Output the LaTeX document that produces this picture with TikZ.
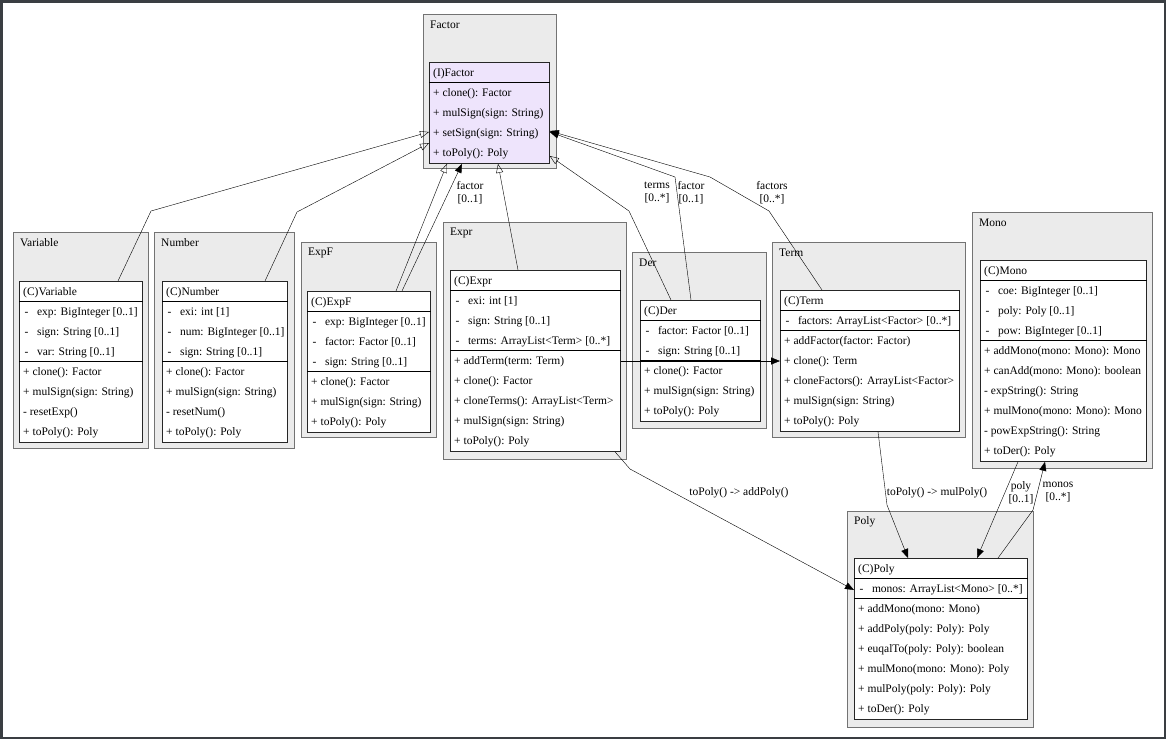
\documentclass[tikz,border=0pt]{standalone}
\usepackage{fontspec}
\setmainfont{Liberation Serif}
\usetikzlibrary{arrows.meta}
\definecolor{ifacefill}{RGB}{238,228,252}
\definecolor{pkgfill}{RGB}{235,235,235}
\definecolor{framegray}{RGB}{58,62,66}

% package box: name, x1, y1, x2, y2, label
\newcommand{\umlpkg}[6]{%
  \node[pkgbox, minimum width={#4pt-#2pt}, minimum height={#5pt-#3pt}] (#1) at (#2,#3) {};
  \node[pkgtext] (#1-l) at ([xshift=7pt,yshift=-11pt]#1.north west) {#6};
}

% class box: [fill], name, x, y, width, title, attributes, methods
\newcommand{\umlclass}[8][white]{%
  \xdef\nattr{0}\xdef\nmeth{0}%
  \if\relax\detokenize{#7}\relax\else
    \foreach \t [count=\i] in {#7} {\xdef\nattr{\i}}%
  \fi
  \foreach \t [count=\i] in {#8} {\xdef\nmeth{\i}}%
  \pgfmathsetmacro{\clsh}{20*(1+\nattr+\nmeth)+1}%
  \node[clsbox, fill=#1, minimum width=#5pt, minimum height=\clsh pt] (#2) at (#3,#4) {};
  \node[rowtext] (#2-t) at ([yshift=-10pt]#2.north west) {#6};
  \draw ([yshift=-20pt]#2.north west) -- ([yshift=-20pt]#2.north east);
  \if\relax\detokenize{#7}\relax\else
    \foreach \t [count=\i] in {#7} {
      \node[rowtext] (#2-a\i) at ([yshift=-10pt-20pt*\i]#2.north west) {\hspace{1.5pt}-\hspace{8.5pt}\t};
    }
    \draw ([yshift=-20pt-20pt*\nattr]#2.north west) -- ([yshift=-20pt-20pt*\nattr]#2.north east);
  \fi
  \foreach \t [count=\i] in {#8} {
    \node[rowtext] (#2-m\i) at ([yshift=-10pt-20pt*\i-20pt*\nattr]#2.north west) {\t};
  }
}

\begin{document}
\begin{tikzpicture}[x=1pt, y=-1pt,
  every node/.style={font=\fontsize{11.5}{13}\selectfont},
  pkgbox/.style={draw=black!55, line width=1.3pt, fill=pkgfill, anchor=north west, inner sep=0},
  pkgtext/.style={anchor=west, inner sep=0},
  clsbox/.style={draw=black!85, line width=0.8pt, anchor=north west, inner sep=0},
  rowtext/.style={anchor=west, inner sep=0, xshift=4pt, yshift=-1.7pt},
  real/.style={-{Triangle[open, length=9pt, width=7pt]}},
  assoc/.style={-{Triangle[length=9pt, width=7pt]}},
  elabel/.style={align=center, inner sep=0, yshift=-1.5pt}]
  \useasboundingbox (0,0) rectangle (1166,739);

  % Packages
  \umlpkg{pFactor}{423}{14}{556}{168}{Factor}
  \umlpkg{pVariable}{13}{232}{148}{448}{Variable}
  \umlpkg{pNumber}{154}{232}{294}{448}{Number}
  \umlpkg{pExpF}{301}{242}{436}{437}{ExpF}
  \umlpkg{pExpr}{443}{222}{626}{459}{Expr}
  \umlpkg{pDer}{632}{252}{766}{428}{Der}
  \umlpkg{pTerm}{772}{242}{965}{437}{Term}
  \umlpkg{pMono}{972}{212}{1152}{468}{Mono}
  \umlpkg{pPoly}{847}{511}{1033}{727}{Poly}

  % Classes
  \umlclass[ifacefill]{factor}{429}{62}{120}{(I)Factor}{}
    {{+ clone(): Factor}, {+ mulSign(sign: String)}, {+ setSign(sign: String)}, {+ toPoly(): Poly}}
  \umlclass{variable}{19}{281}{123}{(C)Variable}
    {{exp: BigInteger [0..1]}, {sign: String [0..1]}, {var: String [0..1]}}
    {{+ clone(): Factor}, {+ mulSign(sign: String)}, {- resetExp()}, {+ toPoly(): Poly}}
  \umlclass{number}{162}{281}{125}{(C)Number}
    {{exi: int [1]}, {num: BigInteger [0..1]}, {sign: String [0..1]}}
    {{+ clone(): Factor}, {+ mulSign(sign: String)}, {- resetNum()}, {+ toPoly(): Poly}}
  \umlclass{expf}{307}{291}{123}{(C)ExpF}
    {{exp: BigInteger [0..1]}, {factor: Factor [0..1]}, {sign: String [0..1]}}
    {{+ clone(): Factor}, {+ mulSign(sign: String)}, {+ toPoly(): Poly}}
  \umlclass{expr}{450}{270}{170}{(C)Expr}
    {{exi: int [1]}, {sign: String [0..1]}, {terms: ArrayList<Term> [0..*]}}
    {{+ addTerm(term: Term)}, {+ clone(): Factor}, {+ cloneTerms(): ArrayList<Term>}, {+ mulSign(sign: String)}, {+ toPoly(): Poly}}
  \umlclass{der}{640}{300}{120}{(C)Der}
    {{factor: Factor [0..1]}, {sign: String [0..1]}}
    {{+ clone(): Factor}, {+ mulSign(sign: String)}, {+ toPoly(): Poly}}
  \umlclass{term}{780}{290}{179}{(C)Term}
    {{factors: ArrayList<Factor> [0..*]}}
    {{+ addFactor(factor: Factor)}, {+ clone(): Term}, {+ cloneFactors(): ArrayList<Factor>}, {+ mulSign(sign: String)}, {+ toPoly(): Poly}}
  \umlclass{mono}{980}{260}{166}{(C)Mono}
    {{coe: BigInteger [0..1]}, {poly: Poly [0..1]}, {pow: BigInteger [0..1]}}
    {{+ addMono(mono: Mono): Mono}, {+ canAdd(mono: Mono): boolean}, {- expString(): String}, {+ mulMono(mono: Mono): Mono}, {- powExpString(): String}, {+ toDer(): Poly}}
  \umlclass{poly}{854}{558}{173}{(C)Poly}
    {{monos: ArrayList<Mono> [0..*]}}
    {{+ addMono(mono: Mono)}, {+ addPoly(poly: Poly): Poly}, {+ euqalTo(poly: Poly): boolean}, {+ mulMono(mono: Mono): Poly}, {+ mulPoly(poly: Poly): Poly}, {+ toDer(): Poly}}

  % Realizations of Factor
  \draw[real] ([xshift=99pt]variable.north west) -- (151,211) -- ([yshift=-70pt]factor.north west);
  \draw[real] ([xshift=103pt]number.north west) -- (297,212) -- ([yshift=-81pt]factor.north west);
  \draw[real] ([xshift=89pt]expf.north west) -- ([xshift=18pt]factor.south west);
  \draw[real] ([xshift=68pt]expr.north west) -- ([xshift=69pt]factor.south west);
  \draw[real] ([xshift=31pt]der.north west) -- (629,211) -- ([yshift=-94pt]factor.north east);

  % Associations
  \draw[assoc] ([xshift=95pt]expf.north west) -- ([xshift=33pt]factor.south west);
  \draw[assoc] ([xshift=51pt]der.north west) -- (675,177) -- ([yshift=-70pt]factor.north east);
  \draw[assoc] ([xshift=42pt]term.north west) -- (769,211) -- (710,177) -- ([yshift=-69pt]factor.north east);
  \draw[assoc] ([yshift=-91pt]expr.north east) -- ([yshift=-71pt]term.north west);
  \draw[assoc] ([xshift=165pt]expr.south west) -- (630,469) -- ([yshift=-32pt]poly.north west);
  \draw[assoc] ([xshift=98pt]term.south west) -- (887,505) -- ([xshift=54pt]poly.north west);
  \draw[assoc] ([xshift=38pt]mono.south west) -- ([xshift=123pt]poly.north west);
  \draw[assoc] ([xshift=144pt]poly.north west) -- (1033,510) -- ([xshift=65pt]mono.south west);

  % Edge labels
  \node[elabel] (l-expf) at (470,191) {factor\\{[0..1]}};
  \node[elabel] (l-terms) at (657,191) {terms\\{[0..*]}};
  \node[elabel] (l-der) at (691,191) {factor\\{[0..1]}};
  \node[elabel] (l-term) at (772,191) {factors\\{[0..*]}};
  \node[elabel] (l-add) at (739,491) {toPoly() -> addPoly()};
  \node[elabel] (l-mul) at (937,491) {toPoly() -> mulPoly()};
  \node[elabel] (l-poly) at (1021,491) {poly\\{[0..1]}};
  \node[elabel] (l-monos) at (1058,491) {monos\\{[0..*]}};

  % Frame
  \fill[framegray] (0,0) rectangle (1166,3);
  \fill[framegray] (0,0) rectangle (3,739);
  \fill[framegray] (1164,0) rectangle (1166,739);
  \fill[framegray] (0,737) rectangle (1166,739);
\end{tikzpicture}
\end{document}
